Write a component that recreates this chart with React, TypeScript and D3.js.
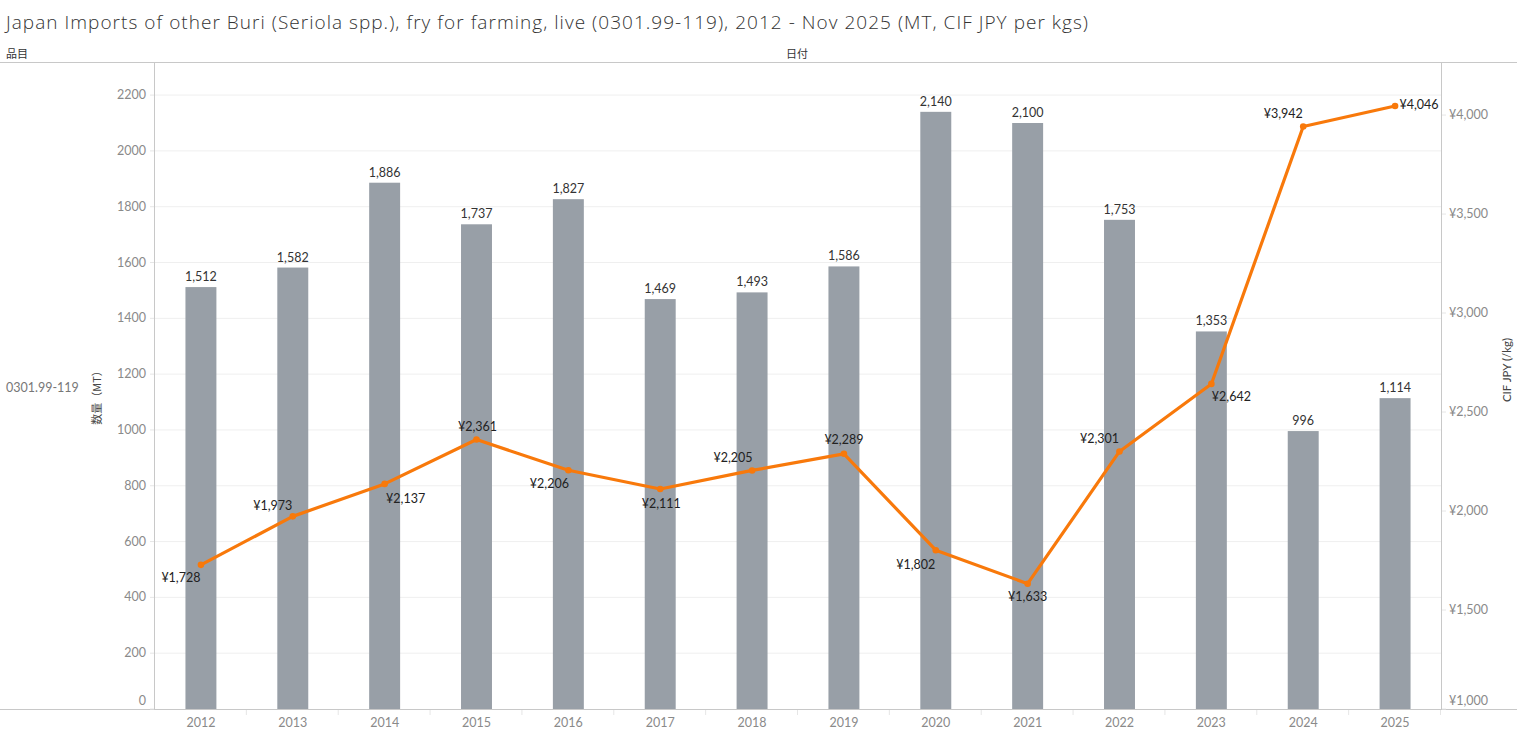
import React from "react";
import * as d3 from "d3";

const years = ["2012","2013","2014","2015","2016","2017","2018","2019","2020","2021","2022","2023","2024","2025"];
const volumeMT = [1512,1582,1886,1737,1827,1469,1493,1586,2140,2100,1753,1353,996,1114];
const cifJpyPerKg = [1728,1973,2137,2361,2206,2111,2205,2289,1802,1633,2301,2642,3942,4046];
const leftTicks = [0,200,400,600,800,1000,1200,1400,1600,1800,2000,2200];
const rightTicks = [1000,1500,2000,2500,3000,3500,4000];
// label placement for price labels: [dx, dy] relative to point
const priceLabelPos: [number, number][] = [
  [-20,13],[-20,-11],[21,15],[1,-13],[-19,13],[1,14],[-19,-13],[0,-14],[-20,14],[0,13],[-20,-13],[20,13],[-20,-13],[24,-1]
];

const W = 1517, H = 732;
const plotL = 155, plotR = 1441, plotT = 63, plotB = 709;
const FONT = "Lato, 'Noto Sans', sans-serif";

export default function App() {
  const x = d3.scaleBand<string>().domain(years).range([plotL, plotR]).paddingInner(0.663).paddingOuter(0.3315);
  const yL = d3.scaleLinear().domain([0, 2315]).range([plotB, plotT]);
  const yR = d3.scaleLinear().domain([1000, 4263]).range([plotB, plotT]);
  const fmt = d3.format(",");
  const cx = (i: number) => (x(years[i]) as number) + x.bandwidth() / 2;
  const line = d3.line<number>().x((_, i) => cx(i)).y(d => yR(d));
  const step = x.step();

  return (
    <svg width={W} height={H} style={{ position: "absolute", left: 0, top: 0, background: "#fff" }} fontFamily={FONT}>
      <text x={6} y={29} fontSize={19} fill="#333" fontWeight={300} fontFamily="'Open Sans', sans-serif" textLength={1082} lengthAdjust="spacing">
        Japan Imports of other Buri (Seriola spp.), fry for farming, live (0301.99-119), 2012 - Nov 2025 (MT, CIF JPY per kgs)
      </text>
      <text x={6} y={58} fontSize={11} fill="#333" fontFamily="'Noto Sans CJK JP', sans-serif">品目</text>
      <text x={786} y={58} fontSize={11} fill="#333" fontFamily="'Noto Sans CJK JP', sans-serif">日付</text>

      {/* gridlines */}
      {leftTicks.slice(1).map(t => (
        <line key={t} x1={plotL} x2={plotR} y1={yL(t)} y2={yL(t)} stroke="#efefef" strokeWidth={1} />
      ))}

      {/* frame lines */}
      <line x1={0} x2={W} y1={plotT - 0.5} y2={plotT - 0.5} stroke="#c8c8c8" />
      <line x1={0} x2={W} y1={plotB + 0.5} y2={plotB + 0.5} stroke="#c8c8c8" />
      <line x1={154.5} x2={154.5} y1={plotT} y2={plotB} stroke="#c8c8c8" />
      <line x1={plotR + 0.5} x2={plotR + 0.5} y1={plotT} y2={plotB} stroke="#c8c8c8" />

      {/* band boundary ticks on bottom */}
      {years.map((y, i) => (
        <line key={y} x1={plotL + step * (i + 1) - 0.5} x2={plotL + step * (i + 1) - 0.5} y1={plotB + 1} y2={plotB + 6} stroke="#e6e6e6" />
      ))}

      {/* left axis */}
      {leftTicks.map(t => (
        <g key={t}>
          <line x1={plotL - 5} x2={plotL - 1} y1={yL(t)} y2={yL(t)} stroke="#e6e6e6" />
          <text x={146} y={t === 0 ? yL(t) - 4 : yL(t) + 4} fontSize={12.5} fill="#8a8a8a" textAnchor="end">{t}</text>
        </g>
      ))}
      {/* right axis */}
      {rightTicks.map(t => (
        <g key={t}>
          <line x1={plotR + 1} x2={plotR + 5} y1={yR(t)} y2={yR(t)} stroke="#e6e6e6" />
          <text x={1449} y={t === 1000 ? yR(t) - 4 : yR(t) + 4} fontSize={12.5} fill="#8a8a8a">{"¥" + fmt(t)}</text>
        </g>
      ))}

      <text x={6} y={392} fontSize={12.5} fill="#777">0301.99-119</text>
      <text transform={`translate(101,395) rotate(-90)`} fontSize={11} fill="#444" textAnchor="middle" fontFamily="'Noto Sans CJK JP', sans-serif">数量（MT）</text>
      <text transform={`translate(1511,370) rotate(-90)`} fontSize={11.5} fill="#444" textAnchor="middle">CIF JPY (/kg)</text>

      {/* bars */}
      {volumeMT.map((v, i) => (
        <g key={years[i]}>
          <rect x={x(years[i])} y={yL(v)} width={x.bandwidth()} height={plotB - yL(v)} fill="#989fa7" />
          <text x={cx(i)} y={yL(v) - 6} fontSize={12.5} fill="#333" textAnchor="middle">{fmt(v)}</text>
        </g>
      ))}

      {/* x axis labels */}
      {years.map((y, i) => (
        <text key={y} x={cx(i)} y={727} fontSize={12.5} fill="#8a8a8a" textAnchor="middle">{y}</text>
      ))}

      {/* price line */}
      <path d={line(cifJpyPerKg) || ""} fill="none" stroke="#f8790b" strokeWidth={3.2} strokeLinejoin="round" />
      {cifJpyPerKg.map((v, i) => (
        <circle key={i} cx={cx(i)} cy={yR(v)} r={3.3} fill="#f8790b" />
      ))}
      {cifJpyPerKg.map((v, i) => (
        <text key={"l" + i} x={cx(i) + priceLabelPos[i][0]} y={yR(v) + priceLabelPos[i][1] + 4.5} fontSize={12.5} fill="#222" textAnchor="middle">
          {"¥" + fmt(v)}
        </text>
      ))}
    </svg>
  );
}
